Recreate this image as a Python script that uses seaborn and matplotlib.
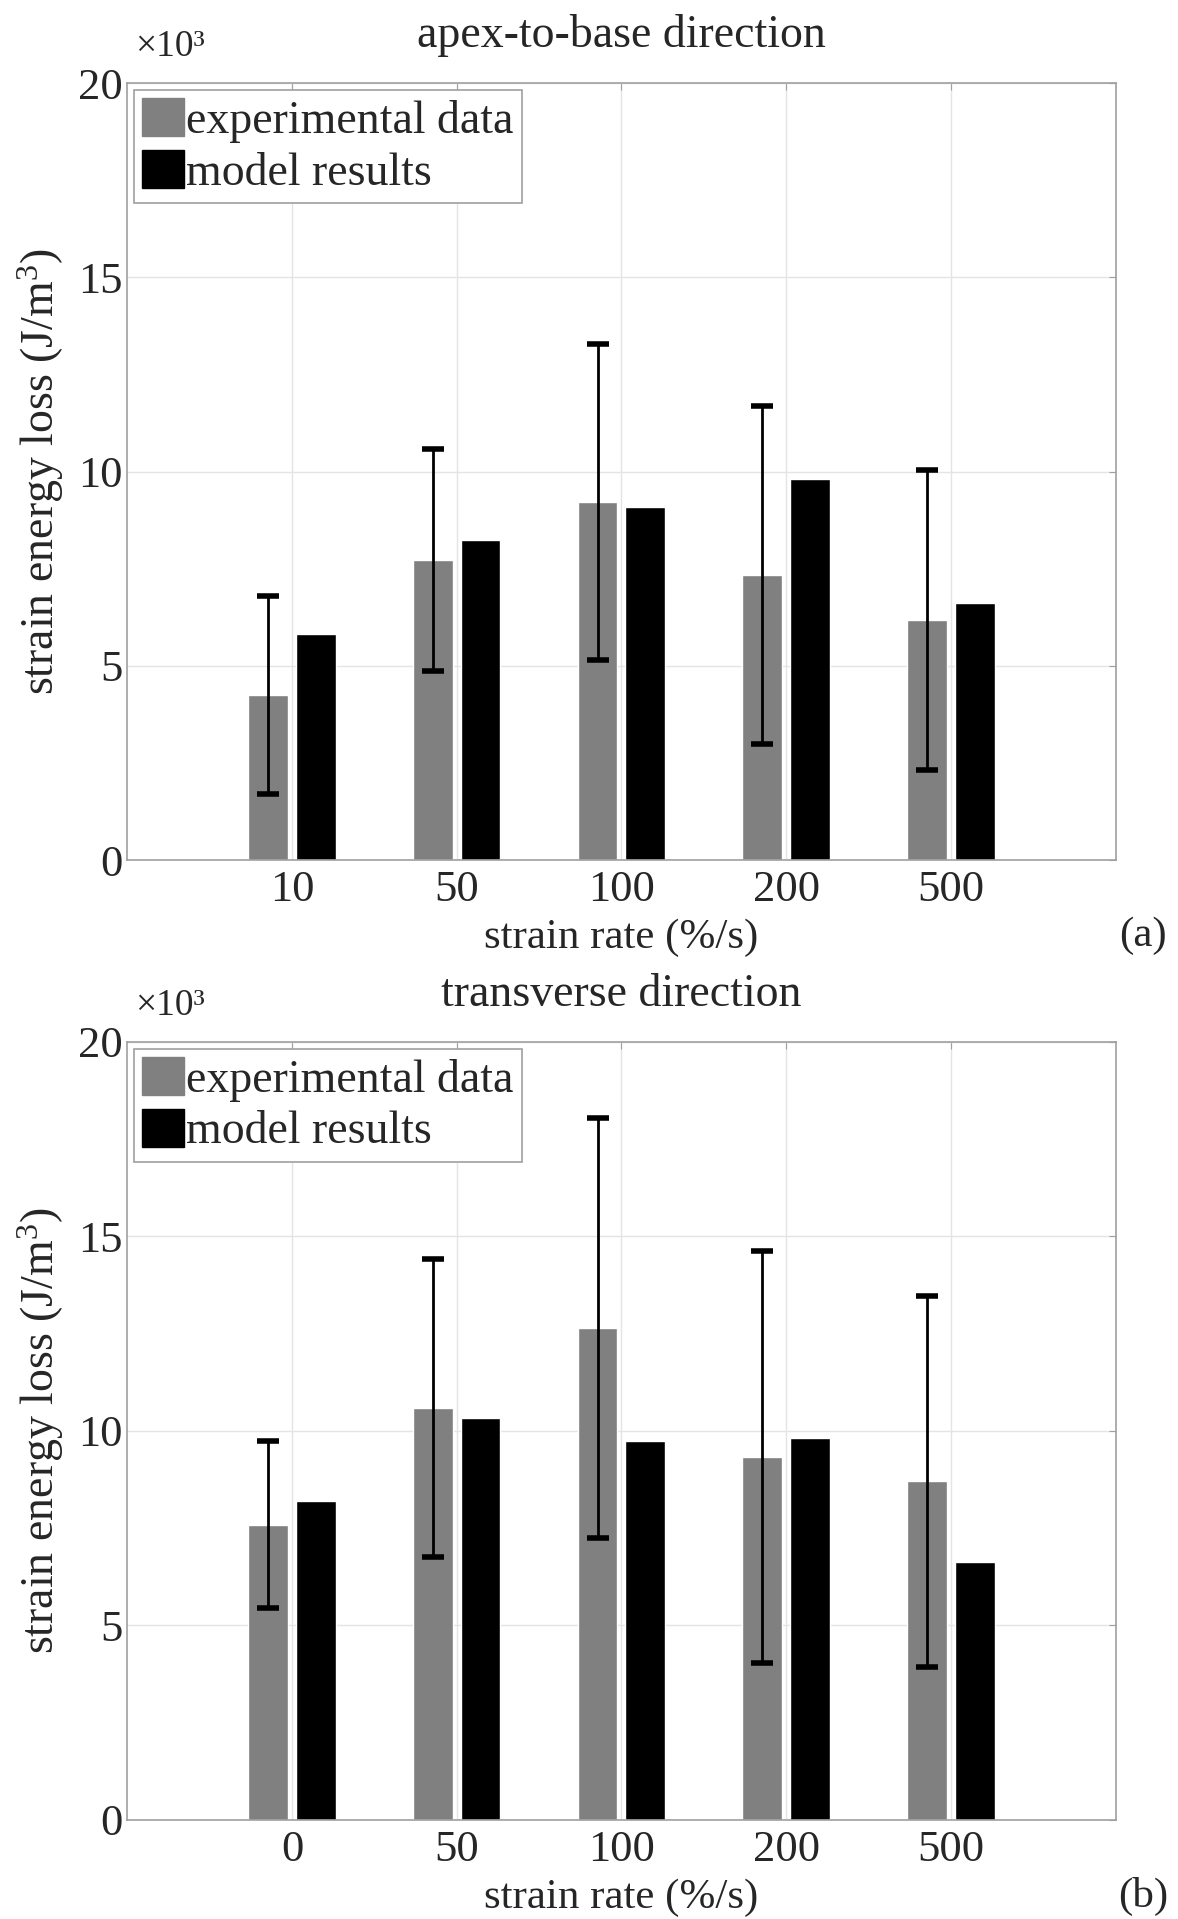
import numpy as np
import pandas as pd
import matplotlib
matplotlib.use("Agg")
import matplotlib.pyplot as plt
from matplotlib.patches import Patch
from matplotlib.ticker import MultipleLocator, FuncFormatter
import seaborn as sns

# Strain energy loss (J/m^3) per strain rate, mean and std of experiments vs model
rates_a = ["10", "50", "100", "200", "500"]
exp_a = [4260, 7730, 9220, 7330, 6180]
err_a = [2550, 2850, 4070, 4350, 3850]
model_a = [5810, 8240, 9100, 9800, 6630]

rates_b = ["0", "50", "100", "200", "500"]
exp_b = [7590, 10600, 12640, 9330, 8700]
err_b = [2150, 3830, 5400, 5300, 4760]
model_b = [8210, 10340, 9740, 9820, 6620]

series_names = ["experimental data", "model results"]
colors = ["#808080", "#000000"]

sns.set_style("whitegrid")
plt.rcParams["font.family"] = ["Liberation Serif", "DejaVu Serif"]
plt.rcParams["mathtext.fontset"] = "custom"
plt.rcParams["mathtext.rm"] = "Liberation Serif"
plt.rcParams["mathtext.it"] = "Liberation Serif:italic"

FS = 31

fig = plt.figure(figsize=(11.78, 19.19), dpi=100)
ax_a = fig.add_axes([0.108, 0.5518, 0.839, 0.4049])
ax_b = fig.add_axes([0.108, 0.0516, 0.839, 0.4055])


def panel(ax, rates, exp, err, model, title, tag):
    df = pd.DataFrame({
        "rate": rates * 2,
        "energy": exp + model,
        "series": [series_names[0]] * len(rates) + [series_names[1]] * len(rates),
    })
    sns.barplot(data=df, x="rate", y="energy", hue="series", order=rates,
                hue_order=series_names, palette=colors, width=0.58, gap=0.17,
                saturation=1, legend=False, ax=ax, zorder=2)
    xs = [b.get_x() + b.get_width() / 2 for b in ax.containers[0]]
    ax.errorbar(xs, exp, yerr=err, fmt="none", ecolor="black", elinewidth=2.0,
                capsize=8, capthick=4, zorder=3)

    ax.set_xlim(-1, 5)
    ax.set_ylim(0, 20000)
    ax.yaxis.set_major_locator(MultipleLocator(5000))
    ax.yaxis.set_major_formatter(FuncFormatter(lambda v, p: f"{v / 1000:g}"))

    ax.grid(True, color="#e4e4e4", linewidth=1.0)
    ax.set_axisbelow(True)
    for s in ax.spines.values():
        s.set_color("#a0a0a0")
        s.set_linewidth(1.2)
    ax.tick_params(axis="both", direction="in", length=5, color="#a0a0a0",
                   labelsize=FS + 1, top=True, right=True)
    ax.tick_params(axis="x", pad=7)
    ax.tick_params(axis="y", pad=3)

    ax.set_xlabel("strain rate (%/s)", fontsize=FS, labelpad=6)
    ax.set_ylabel("strain energy loss (J/m$^{3}$)", fontsize=FS + 2, labelpad=9)
    ax.set_title(title, fontsize=FS + 2, pad=26)
    ax.text(0.008, 1.024, "×10³", transform=ax.transAxes, fontsize=FS - 4,
            ha="left", va="bottom")
    ax.text(1.028, -0.098, tag, transform=ax.transAxes, fontsize=FS,
            ha="center", va="center")

    handles = [Patch(facecolor=c, edgecolor=c) for c in colors]
    leg = ax.legend(handles, series_names, loc="upper left", fontsize=FS + 2,
                    frameon=True, fancybox=False, edgecolor="#a0a0a0",
                    framealpha=1, handlelength=0.9, handleheight=0.9,
                    handletextpad=0.05, borderpad=0.18, labelspacing=0.15,
                    borderaxespad=0.15)
    leg.get_frame().set_linewidth(1.2)


panel(ax_a, rates_a, exp_a, err_a, model_a, "apex-to-base direction", "(a)")
panel(ax_b, rates_b, exp_b, err_b, model_b, "transverse direction", "(b)")

fig.savefig("out.png", dpi=100, facecolor="white")
